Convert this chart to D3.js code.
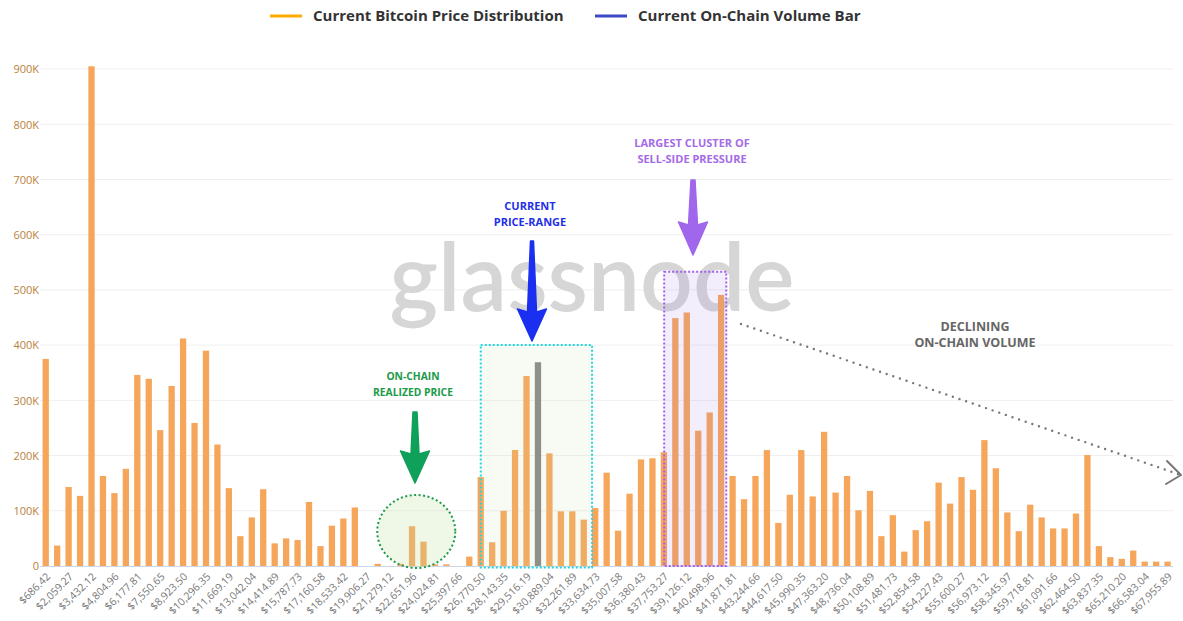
<!DOCTYPE html>
<html><head><meta charset="utf-8">
<script src="https://cdn.jsdelivr.net/npm/d3@7"></script>
<style>
html,body{margin:0;padding:0;background:#fff;}
svg{display:block;font-family:"Open Sans",sans-serif;}
</style></head><body>
<svg id="chart" width="1183" height="621"></svg>
<script>
// ---- data ----
const volumes = [375,37,143,127,905,163,132,176,346,339,246,326,412,259,390,220,141,54,88,139,
41,50,47,116,36,73,86,106,0,4,0,4,72,44,3,3,0,17,161,43,
100,210,344,369,204,99,99,84,105,169,64,131,193,195,206,449,459,245,278,491,
163,121,163,210,78,129,210,126,243,133,163,101,136,54,92,26,65,81,151,113,
161,138,228,177,97,63,111,88,68,68,95,201,36,16,13,28,8,8,8].map(v => v*1000);
const currentBarIndex = 43;
const tickLabels = ["$686.42","$2,059.27","$3,432.12","$4,804.96","$6,177.81","$7,550.65","$8,923.50","$10,296.35","$11,669.19","$13,042.04","$14,414.89","$15,787.73","$17,160.58","$18,533.42","$19,906.27","$21,279.12","$22,651.96","$24,024.81","$25,397.66","$26,770.50","$28,143.35","$29,516.19","$30,889.04","$32,261.89","$33,634.73","$35,007.58","$36,380.43","$37,753.27","$39,126.12","$40,498.96","$41,871.81","$43,244.66","$44,617.50","$45,990.35","$47,363.20","$48,736.04","$50,108.89","$51,481.73","$52,854.58","$54,227.43","$55,600.27","$56,973.12","$58,345.97","$59,718.81","$61,091.66","$62,464.50","$63,837.35","$65,210.20","$66,583.04","$67,955.89"];
const yTicks = [0,100000,200000,300000,400000,500000,600000,700000,800000,900000];
const legendItems = [{name:"Current Bitcoin Price Distribution", color:"#ffab00"},{name:"Current On-Chain Volume Bar", color:"#3e48c4"}];
// annotation ranges (bar indices)
const realizedRange = [32, 33];
const currentRange = [38, 48];
const sellRange = [55, 59];

// ---- layout ----
const svg = d3.select("#chart");
const pl = 40, pr = 1173.3, pt = 69, pb = 566;
const idx = d3.range(volumes.length);
const x = d3.scaleBand().domain(idx).range([pl, pr]).paddingInner(0.45).paddingOuter(0.225);
const y = d3.scaleLinear().domain([0, 900000]).range([pb, pt]);
const bw = x.bandwidth();
const cx = i => x(i) + bw/2;

// gridlines
svg.append("g").selectAll("line").data(yTicks.slice(1)).join("line")
  .attr("x1", pl).attr("x2", pr).attr("y1", d=>y(d)).attr("y2", d=>y(d))
  .attr("stroke", "#efefef").attr("stroke-width", 1);

// y axis labels
const yAxis = d3.axisLeft(y).tickValues(yTicks).tickSize(0).tickPadding(0)
  .tickFormat(d => d === 0 ? "0" : (d/1000) + "K");
const yg = svg.append("g").attr("transform", `translate(${pl-1},0)`).call(yAxis);
yg.select(".domain").remove();
yg.selectAll("text").attr("fill", "#b97f3c").attr("font-size", "11px").attr("font-family","Open Sans").attr("dy","0.35em");

// watermark
svg.append("text").attr("x", 592).attr("y", 311).attr("text-anchor","middle")
  .attr("font-family","Lato").attr("font-weight", 600).attr("font-size", 95).attr("fill","#d6d6d6")
  .attr("textLength", 405).attr("lengthAdjust","spacingAndGlyphs").text("glassnode");

// bars
svg.append("g").selectAll("rect").data(idx).join("rect")
  .attr("x", i => x(i)).attr("width", bw)
  .attr("y", i => y(volumes[i])).attr("height", i => pb - y(volumes[i]))
  .attr("fill", i => i === currentBarIndex ? "#878787" : "#f6a65a");

// baseline
svg.append("line").attr("x1", pl).attr("x2", pr).attr("y1", pb+0.5).attr("y2", pb+0.5)
  .attr("stroke", "#ccd6eb").attr("stroke-width", 1);

// x axis labels
const xAxis = d3.axisBottom(x).tickValues(idx.filter(i => i % 2 === 0)).tickSize(0).tickPadding(0)
  .tickFormat(i => tickLabels[i/2]);
const xg = svg.append("g").attr("transform", `translate(0,${pb+6})`).call(xAxis);
xg.select(".domain").remove();
xg.selectAll("text").attr("fill", "#777").attr("font-size", "10.5px").attr("font-family","Open Sans")
  .attr("text-anchor","end").attr("dy","0.7em").attr("transform","rotate(-45)");

// ---- annotations ----
function arrow(ax, y0, yh, yt, hw, sw0, sw1, color){
  const p = [[ax-sw0, y0],[ax+sw0, y0],[ax+sw1, yh-3],[ax+hw, yh-6],[ax, yt],[ax-hw, yh-6],[ax-sw1, yh-3]];
  svg.append("path").attr("d", d3.line().curve(d3.curveLinearClosed)(p)).attr("fill", color)
    .attr("stroke", color).attr("stroke-width", 1.5).attr("stroke-linejoin","round");
}
// cyan box
const cL = cx(currentRange[0]), cR = x(currentRange[1]);
svg.append("rect").attr("x", cL).attr("y", y(400000)).attr("width", cR - cL).attr("height", pb - y(400000)+1.5)
  .attr("fill", "rgba(190,225,160,0.12)").attr("stroke", "#22d3e0").attr("stroke-width", 2).attr("stroke-dasharray","2,2");
// purple box
const sL = x(sellRange[0]) - 8, sR = x(sellRange[1]) + bw + 2;
svg.append("rect").attr("x", sL).attr("y", y(533000)).attr("width", sR - sL).attr("height", pb - y(533000))
  .attr("fill", "rgba(160,120,235,0.13)").attr("stroke", "#a25ef0").attr("stroke-width", 2).attr("stroke-dasharray","2,2");
// green ellipse
const gC = (cx(realizedRange[0]) + cx(realizedRange[1]))/2 - 1.5;
svg.append("ellipse").attr("cx", gC).attr("cy", 531.5).attr("rx", 39).attr("ry", 36.5)
  .attr("fill", "rgba(190,225,160,0.25)").attr("stroke", "#1a9a4a").attr("stroke-width", 2).attr("stroke-dasharray","2,2.5");

arrow(415, 412, 457, 483, 14.5, 2, 4, "#0fa05a");
arrow(532, 241, 315, 341, 14.5, 1.5, 4.5, "#1a2ff0");
arrow(693, 180, 228, 255, 14.5, 2, 4.5, "#a066ec");

function label(lines, lx, y0, color, size){
  const t = svg.append("text").attr("text-anchor","middle").attr("font-family","Open Sans")
    .attr("font-weight", 700).attr("font-size", size).attr("fill", color);
  lines.forEach((l,k) => t.append("tspan").attr("x", lx).attr("y", y0 + k*16).text(l));
}
label(["ON-CHAIN","REALIZED PRICE"], 413, 380, "#1b9a47", 10.3);
label(["CURRENT","PRICE-RANGE"], 530, 210, "#1f2fe8", 11);
label(["LARGEST CLUSTER OF","SELL-SIDE PRESSURE"], 692, 147, "#a46ae8", 11);
label(["DECLINING","ON-CHAIN VOLUME"], 975, 331, "#666", 12.5);

// declining dotted line
svg.append("line").attr("x1", 741).attr("y1", 324).attr("x2", 1178).attr("y2", 474)
  .attr("stroke", "#777").attr("stroke-width", 2.4).attr("stroke-linecap","round").attr("stroke-dasharray","0,7");
svg.append("path").attr("d", "M1167,461 L1181,475 L1166,484").attr("fill","none")
  .attr("stroke","#777").attr("stroke-width", 2).attr("stroke-linecap","round").attr("stroke-linejoin","round");

// legend
const lg = svg.append("g");
legendItems.forEach((it, k) => {
  const gx = k === 0 ? 270 : 595;
  lg.append("line").attr("x1", gx).attr("x2", gx+32).attr("y1", 16).attr("y2", 16)
    .attr("stroke", it.color).attr("stroke-width", 3);
  lg.append("text").attr("x", gx+43).attr("y", 21).attr("font-family","Open Sans").attr("font-weight",700)
    .attr("font-size", 15).attr("fill", "#333").text(it.name);
});
</script>
</body></html>
